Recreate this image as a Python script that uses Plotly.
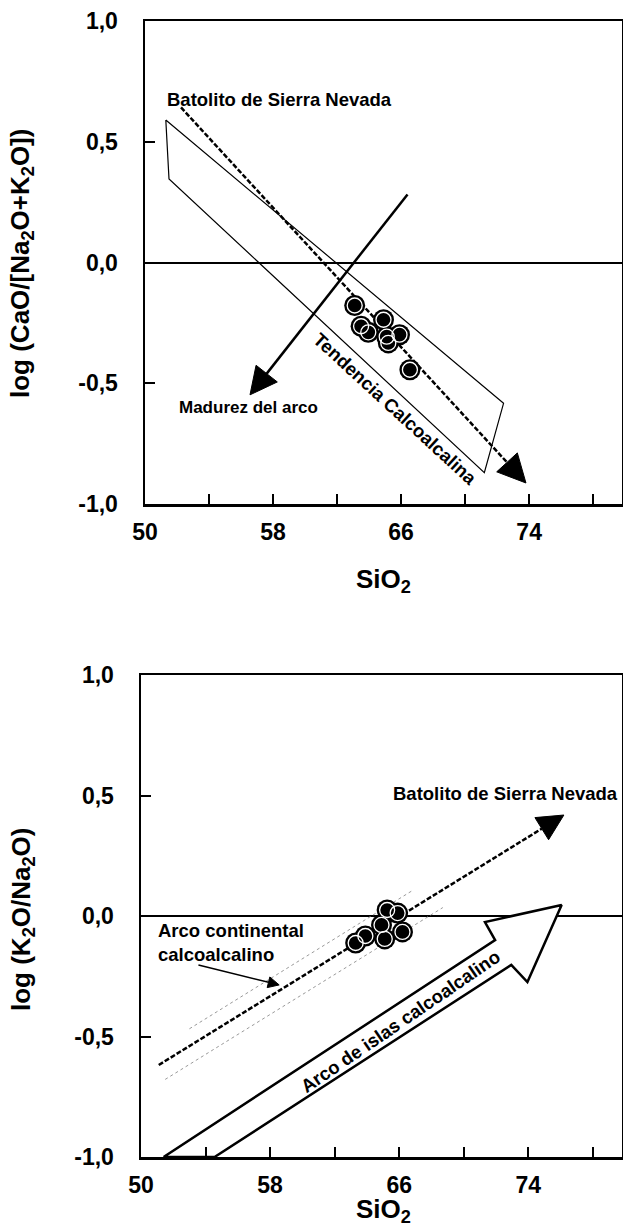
import plotly.graph_objects as go

W, H = 623, 1230
FONT = "Liberation Sans, Arial, Helvetica, sans-serif"

# ---------------- Upper diagram: log(CaO/[Na2O+K2O]) vs SiO2 ----------------
sio2_top = [63.1, 63.5, 63.95, 64.9, 65.1, 65.2, 65.9, 66.55]
logca = [-0.178, -0.264, -0.289, -0.237, -0.307, -0.333, -0.299, -0.444]

field_sio2 = [51.3, 72.4, 71.2, 51.5, 51.3]
field_logca = [0.59, -0.583, -0.87, 0.346, 0.59]

sierra_top_sio2 = [52.25, 73.8]
sierra_top_logca = [0.642, -0.913]

madurez_sio2 = [66.4, 56.56]
madurez_logca = [0.282, -0.548]

# ---------------- Lower diagram: log(K2O/Na2O) vs SiO2 ----------------
sio2_bot = [63.3, 63.9, 64.9, 65.1, 65.25, 65.9, 66.2]
logk = [-0.112, -0.083, -0.037, -0.095, 0.025, 0.012, -0.066]

sierra_bot_sio2 = [51.1, 76.2]
sierra_bot_logk = [-0.618, 0.419]

band_up_sio2 = [53.0, 66.8]
band_up_logk = [-0.468, 0.105]
band_lo_sio2 = [51.5, 68.7]
band_lo_logk = [-0.678, 0.035]

islas_sio2 = [51.4, 71.94, 71.31, 76.06, 73.94, 72.94, 54.56, 51.4]
islas_logk = [-1.0, -0.10, -0.025, 0.046, -0.274, -0.203, -1.0, -1.0]

continental_sio2 = [53.56, 58.56]
continental_logk = [-0.203, -0.286]

x_tickvals = [50, 58, 66, 74]
x_ticktext = ["50", "58", "66", "74"]
x_minor = [54, 62, 70, 78]
y_tickvals = [-1, -0.5, 0, 0.5, 1]
y_ticktext = ["-1,0", "-0,5", "0,0", "0,5", "1,0"]


def arrow(xs, ys, xa, ya, dash, width, head):
    return go.Scatter(
        x=xs, y=ys, xaxis=xa, yaxis=ya, mode="lines+markers",
        line=dict(color="black", width=width, dash=dash),
        marker=dict(symbol="arrow-up", size=[0, head], angleref="previous",
                    color="black", opacity=1,
                    line=dict(width=1, color="black")),
        hoverinfo="skip", showlegend=False)


def samples(xs, ys, xa, ya):
    return [
        go.Scatter(x=xs, y=ys, xaxis=xa, yaxis=ya, mode="markers",
                   marker=dict(symbol="circle", size=21, color="black",
                               line=dict(width=0)),
                   hoverinfo="skip", showlegend=False),
        go.Scatter(x=xs, y=ys, xaxis=xa, yaxis=ya, mode="markers",
                   marker=dict(symbol="circle-open", size=15, color="white",
                               line=dict(width=1.3, color="white")),
                   hoverinfo="skip", showlegend=False),
    ]


fig = go.Figure()

# upper
fig.add_trace(go.Scatter(x=field_sio2, y=field_logca, xaxis="x", yaxis="y",
                         mode="lines", line=dict(color="black", width=1.2),
                         hoverinfo="skip", showlegend=False))
fig.add_trace(arrow(sierra_top_sio2, sierra_top_logca, "x", "y", "5px,2px", 2.5, 28))
fig.add_trace(arrow(madurez_sio2, madurez_logca, "x", "y", "solid", 2.5, 27))
for t in samples(sio2_top, logca, "x", "y"):
    fig.add_trace(t)

# lower
for bx, by in ((band_up_sio2, band_up_logk), (band_lo_sio2, band_lo_logk)):
    fig.add_trace(go.Scatter(x=bx, y=by, xaxis="x2", yaxis="y2", mode="lines",
                             line=dict(color="#9a9a9a", width=1, dash="dot"),
                             hoverinfo="skip", showlegend=False))
fig.add_trace(go.Scatter(x=islas_sio2, y=islas_logk, xaxis="x2", yaxis="y2",
                         mode="lines", fill="toself", fillcolor="white",
                         line=dict(color="black", width=2.5),
                         hoverinfo="skip", showlegend=False))
fig.add_trace(arrow(sierra_bot_sio2, sierra_bot_logk, "x2", "y2", "5px,2px", 2.5, 26))
fig.add_trace(arrow(continental_sio2, continental_logk, "x2", "y2", "solid", 1.5, 11))
for t in samples(sio2_bot, logk, "x2", "y2"):
    fig.add_trace(t)

tickfont = dict(family=FONT, size=23, color="black", weight="bold")
xcommon = dict(range=[50, 79.8], tickmode="array", tickvals=x_tickvals,
               ticktext=x_ticktext, ticks="inside", ticklen=10, tickwidth=2,
               tickcolor="black", showline=True, linewidth=2.5,
               linecolor="black", mirror=True, showgrid=False,
               zeroline=False, tickfont=tickfont, ticklabelstandoff=6,
               automargin=False,
               minor=dict(tickmode="array", tickvals=x_minor, ticks="inside",
                          ticklen=10, tickwidth=2, tickcolor="black",
                          showgrid=False))
ycommon = dict(range=[-1, 1], tickmode="array", tickvals=y_tickvals,
               ticktext=y_ticktext, ticks="inside", ticklen=10, tickwidth=2,
               tickcolor="black", showline=True, linewidth=2.5,
               linecolor="black", mirror=True, showgrid=False,
               zeroline=True, zerolinecolor="black", zerolinewidth=2,
               tickfont=tickfont, ticklabelstandoff=20, automargin=False)

fig.update_layout(
    width=W, height=H, margin=dict(l=0, r=0, t=0, b=0, autoexpand=False),
    paper_bgcolor="white", plot_bgcolor="white", showlegend=False,
    xaxis=dict(domain=[145 / W, 622 / W], anchor="y", **xcommon),
    yaxis=dict(domain=[(H - 504) / H, (H - 21) / H], anchor="x", **ycommon),
    xaxis2=dict(domain=[141 / W, 622 / W], anchor="y2", **xcommon),
    yaxis2=dict(domain=[(H - 1157) / H, (H - 675) / H], anchor="x2", **ycommon),
)

lab = dict(family=FONT, size=18.5, color="black", weight="bold")
lab_small = dict(family=FONT, size=17, color="black", weight="bold")
rot = dict(family=FONT, size=18.5, color="black", weight="bold")
titlef = dict(family=FONT, size=26, color="black", weight="bold")

ann = [
    dict(text="Batolito de Sierra Nevada", x=51.25, y=0.676, xref="x", yref="y",
         xanchor="left", yanchor="middle", showarrow=False, font=lab),
    dict(text="Madurez del arco", x=52.0, y=-0.602, xref="x", yref="y",
         xanchor="left", yanchor="middle", showarrow=False, font=lab_small),
    dict(text="Tendencia Calcoalcalina", x=65.6, y=-0.606, xref="x", yref="y",
         xanchor="center", yanchor="middle",
         textangle=42.6, showarrow=False, font=rot),
    dict(text="Batolito de Sierra Nevada", x=65.5, y=0.51, xref="x2", yref="y2",
         xanchor="left", yanchor="middle", showarrow=False, font=lab),
    dict(text="Arco continental<br>calcoalcalino", x=50.9, y=-0.112, xref="x2",
         yref="y2", xanchor="left", yanchor="middle", align="left",
         showarrow=False, font=lab),
    dict(text="Arco de islas calcoalcalino", x=66.06, y=-0.436, xref="x2",
         yref="y2", xanchor="center", yanchor="middle",
         textangle=-34.4, showarrow=False, font=rot),
    # axis titles
    dict(text="log (CaO/[Na<sub>2</sub>O+K<sub>2</sub>O])", x=22 / W,
         y=(H - 264) / H, xref="paper", yref="paper", textangle=-90,
         xanchor="center", yanchor="middle", showarrow=False, font=titlef),
    dict(text="SiO<sub>2</sub>", x=383 / W, y=(H - 580) / H, xref="paper",
         yref="paper", xanchor="center", yanchor="middle",
         showarrow=False, font=titlef),
    dict(text="log (K<sub>2</sub>O/Na<sub>2</sub>O)", x=22 / W,
         y=(H - 920) / H, xref="paper", yref="paper", textangle=-90,
         xanchor="center", yanchor="middle", showarrow=False, font=titlef),
    dict(text="SiO<sub>2</sub>", x=383 / W, y=(H - 1210) / H, xref="paper",
         yref="paper", xanchor="center", yanchor="middle",
         showarrow=False, font=titlef),
]
fig.update_layout(annotations=ann)

fig.write_html("out.html",
               config={"displayModeBar": False, "staticPlot": True},
               post_script="document.body.style.margin='0px';"
                           "document.body.style.overflow='hidden';")
